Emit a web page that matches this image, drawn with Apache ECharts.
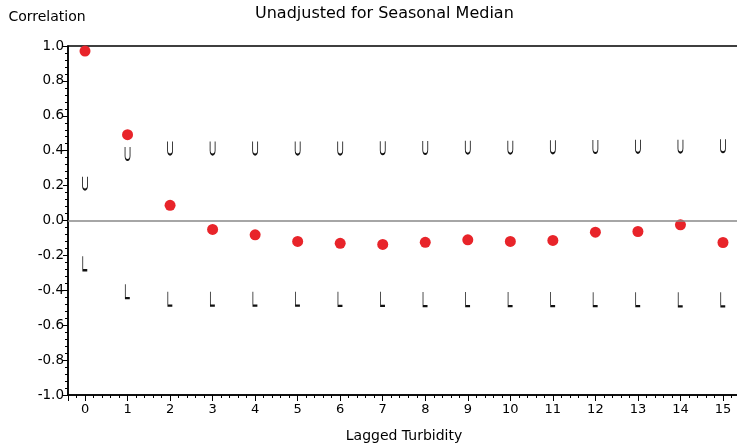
<!DOCTYPE html>
<html><head><meta charset="utf-8">
<script src="https://cdn.jsdelivr.net/npm/echarts@6/dist/echarts.min.js"></script>
<style>html,body{margin:0;padding:0;background:#fff;overflow:hidden}#c{width:737px;height:444px}</style>
</head><body><div id="c"></div>
<script>
const lags = [0,1,2,3,4,5,6,7,8,9,10,11,12,13,14,15];
const correlation = [0.971,0.492,0.087,-0.051,-0.082,-0.120,-0.131,-0.137,-0.125,-0.111,-0.120,-0.114,-0.067,-0.063,-0.025,-0.126];
const upperLimit = [0.214,0.384,0.415,0.415,0.415,0.415,0.415,0.417,0.418,0.42,0.42,0.422,0.424,0.425,0.426,0.428];
const lowerLimit = [-0.245,-0.405,-0.448,-0.448,-0.448,-0.448,-0.449,-0.449,-0.45,-0.45,-0.45,-0.45,-0.451,-0.451,-0.452,-0.452];
const yTicks = [-1.0,-0.8,-0.6,-0.4,-0.2,0.0,0.2,0.4,0.6,0.8,1.0];

const FONT = 'DejaVu Sans';
const pts = (vals) => lags.map((l, i) => [l, vals[i]]);
const chart = echarts.init(document.getElementById('c'), null, {renderer: 'canvas'});
chart.setOption({
  animation: false,
  backgroundColor: '#fff',
  textStyle: {fontFamily: FONT},
  grid: {left: 68, top: 46, width: 672, height: 349, containLabel: false, outerBoundsMode: 'none',
    show: true, borderColor: '#000', borderWidth: 1.5, backgroundColor: 'transparent'},
  graphic: [{
    type: 'text', left: 255, top: 6,
    style: {text: 'Unadjusted for Seasonal Median', font: '16px "DejaVu Sans"', fill: '#000'}
  }],
  xAxis: [{
    type: 'value', min: -0.4, max: 15.4, interval: 0.2, position: 'bottom',
    axisLine: {onZero: false, lineStyle: {color: '#000', width: 1.5}},
    axisTick: {length: 3, lineStyle: {color: '#000', width: 1}},
    axisLabel: {margin: 8, color: '#000', fontSize: 13, fontFamily: FONT,
      formatter: v => (Math.abs(v - Math.round(v)) < 1e-6 && v > -0.01) ? String(Math.round(v)) : ''},
    splitLine: {show: false},
    name: 'Lagged Turbidity', nameLocation: 'middle', nameGap: 34,
    nameTextStyle: {color: '#000', fontSize: 14, fontFamily: FONT}
  }, {
    type: 'value', min: -0.4, max: 15.4, minInterval: 1, maxInterval: 1, position: 'bottom',
    axisLine: {show: false, onZero: false},
    axisTick: {show: true, length: 6, lineStyle: {color: '#000', width: 1}},
    axisLabel: {show: false}, splitLine: {show: false}
  }],
  yAxis: {
    type: 'value', min: yTicks[0], max: yTicks[yTicks.length - 1], interval: 0.2,
    axisLine: {show: true, onZero: false, lineStyle: {color: '#000', width: 1.5}},
    axisTick: {show: true, length: 5, lineStyle: {color: '#000', width: 1}},
    minorTick: {show: true, splitNumber: 5, length: 3, lineStyle: {color: '#000', width: 1}},
    minorSplitLine: {show: false},
    axisLabel: {margin: 4, color: '#000', fontSize: 13.5, fontFamily: FONT, formatter: v => v.toFixed(1)},
    splitLine: {show: false},
    name: 'Correlation', nameLocation: 'end', nameGap: 22,
    nameTextStyle: {color: '#000', fontSize: 14, fontFamily: FONT, align: 'center', padding: [0, 42, 0, 0]}
  },
  series: [{
    name: 'Upper limit', type: 'scatter', xAxisIndex: 0, data: pts(upperLimit),
    symbol: 'path://M0,0 L0,9 C0,14.5 5,14.5 5,9 L5,0', symbolSize: [5, 13],
    itemStyle: {color: 'transparent', borderColor: '#111', borderWidth: 1.3, opacity: 1}, z: 3
  }, {
    name: 'Lower limit', type: 'scatter', xAxisIndex: 0, data: pts(lowerLimit),
    symbol: 'path://M0,0 L0,14 L4.5,14', symbolSize: [4.5, 14],
    itemStyle: {color: 'transparent', borderColor: '#111', borderWidth: 1.3, opacity: 1}, z: 3
  }, {
    name: 'Correlation', type: 'scatter', xAxisIndex: 0, data: pts(correlation),
    symbol: 'circle', symbolSize: 11,
    itemStyle: {color: '#e8242a', opacity: 1}, z: 4,
    markLine: {silent: true, symbol: 'none', label: {show: false},
      lineStyle: {color: '#888', width: 1.5, type: 'solid'}, data: [{yAxis: 0}]}
  }]
});
</script></body></html>
